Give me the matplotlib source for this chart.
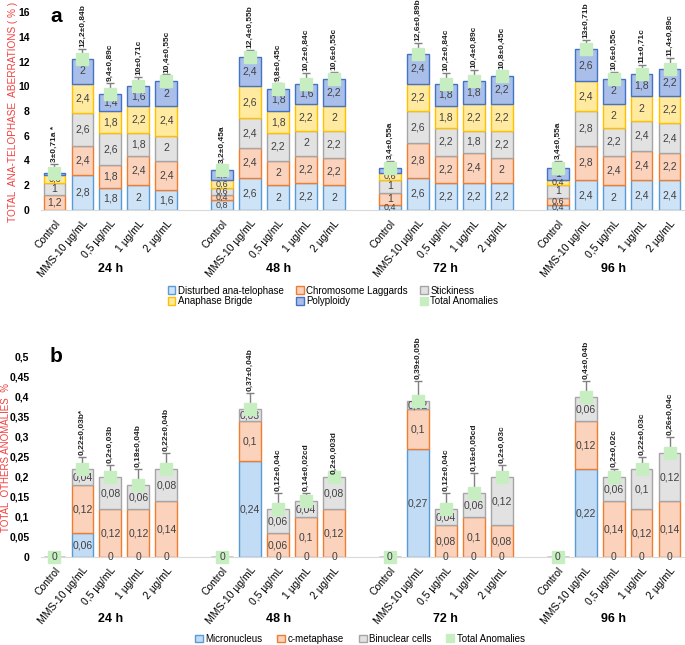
import numpy as np
import matplotlib
matplotlib.use("Agg")
from matplotlib import pyplot as plt

plt.rcParams['font.family'] = ['Liberation Sans', 'DejaVu Sans']

# categories
times = ["24 h", "48 h", "72 h", "96 h"]
doses = ["Control", "MMS-10 µg/mL", "0,5 µg/mL", "1 µg/mL", "2 µg/mL"]

# panel a - ana-telophase aberrations, 4 times x 5 doses
disturbed = [0, 2.8, 1.8, 2, 1.6,   0.8, 2.6, 2, 2.2, 2,    0.4, 2.6, 2.2, 2.2, 2.2,   0.4, 2.4, 2, 2.4, 2.4]
laggards = [1.2, 2.4, 1.8, 2.4, 2.4, 0.4, 2.4, 2, 2.2, 2.2,  1, 2.8, 2.2, 2.4, 2,      0.6, 2.8, 2.4, 2.4, 2.2]
stickiness = [1, 2.6, 2.6, 1.8, 2,  0.6, 2.4, 2.2, 2, 2.2,   1, 2.6, 2.2, 1.8, 2.2,    1, 2.8, 2.2, 2.4, 2.4]
bridge = [0.6, 2.4, 1.8, 2.2, 2.4,  0.6, 2.6, 1.8, 2.2, 2,   0.6, 2.2, 1.8, 2.2, 2.2,  0.4, 2.4, 2, 2, 2.2]
polyploidy = [0.2, 2, 1.4, 1.6, 2,  0.8, 2.4, 1.8, 1.6, 2.2,  0.4, 2.4, 1.8, 1.8, 2.2, 1, 2.6, 2, 1.8, 2.2]
sd_a = [0.71, 0.84, 0.89, 0.71, 0.55, 0.45, 0.55, 0.45, 0.84, 0.55,
        0.55, 0.89, 0.84, 0.89, 0.45, 0.55, 0.71, 0.55, 0.71, 0.89]
lab_a = ["3±0,71a *", "12,2±0,84b", "9,4±0,89c", "10±0,71c", "10,4±0,55c",
         "3,2±0,45a", "12,4±0,55b", "9,8±0,45c", "10,2±0,84c", "10,6±0,55c",
         "3,4±0,55a", "12,6±0,89b", "10,2±0,84c", "10,4±0,89c", "10,8±0,45c",
         "3,4±0,55a", "13±0,71b", "10,6±0,55c", "11±0,71c", "11,4±0,89c"]

# panel b - other anomalies
micronucleus = [0, 0.06, 0, 0, 0,  0, 0.24, 0, 0, 0,  0, 0.27, 0, 0, 0,  0, 0.22, 0, 0, 0]
cmeta = [0, 0.12, 0.12, 0.12, 0.14,  0, 0.1, 0.06, 0.1, 0.12,  0, 0.1, 0.08, 0.1, 0.08,  0, 0.12, 0.14, 0.12, 0.14]
binuclear = [0, 0.04, 0.08, 0.06, 0.08,  0, 0.03, 0.06, 0.04, 0.08,  0, 0.02, 0.04, 0.06, 0.12,  0, 0.06, 0.06, 0.1, 0.12]
sd_b = [0, 0.03, 0.03, 0.04, 0.04,  0, 0.04, 0.04, 0.02, 0.003,  0, 0.05, 0.04, 0.05, 0.03,  0, 0.04, 0.02, 0.03, 0.04]
lab_b = ["", "0,22±0,03b*", "0,2±0,03b", "0,18±0,04b", "0,22±0,04b",
         "", "0,37±0,04b", "0,12±0,04c", "0,14±0,02cd", "0,2±0,003d",
         "", "0,39±0,05b", "0,12±0,04c", "0,16±0,05cd", "0,2±0,03c",
         "", "0,4±0,04b", "0,2±0,02c", "0,22±0,03c", "0,26±0,04c"]

x = np.array([g * 6 + i for g in range(len(times)) for i in range(len(doses))])
xt = [d for t in times for d in doses]

def fmt(v):
    s = ("%.2f" % v).rstrip("0").rstrip(".")
    return s.replace(".", ",")

def draw(ax, series, names, fills, edges, sd, labels, ymax, step, minlab, letter, letter_y, group_y):
    bottom = np.zeros(len(x))
    handles = []
    for vals, nm, fc, ec in zip(series, names, fills, edges):
        vals = np.array(vals)
        h = ax.bar(x, vals, 0.78, bottom=bottom, color=fc, edgecolor=ec, linewidth=1, label=nm, zorder=2)
        handles.append(h)
        for xi, b, v in zip(x, bottom, vals):
            if v > 0:
                ax.text(xi, b + v / 2, fmt(v), ha='center', va='center',
                        fontsize=7.5 if v >= minlab else 6.5, color='#404040', zorder=4)
        bottom = bottom + vals
    tot = bottom
    sdv = np.array(sd)
    m = sdv > 0
    ax.errorbar(x[m], tot[m], yerr=[np.zeros(m.sum()), sdv[m]], fmt='none', ecolor='#808080',
                elinewidth=1, capsize=3, zorder=3)
    ln, = ax.plot(x, tot, 's', ms=9, color='#c6eec0', mec='#c6eec0', label='Total Anomalies', zorder=5,
                  linestyle='none', clip_on=False)
    handles.append(ln)
    for xi, t, s, lb in zip(x, tot, sdv, labels):
        if lb:
            ax.text(xi, t + s + ymax * 0.01, lb, rotation=90, ha='center', va='bottom',
                    fontsize=6.0, fontweight='bold', color='#202020', zorder=6)
    ax.set_xlim(-0.5, x.max() + 0.5)
    ax.set_ylim(0, ymax)
    ticks = np.arange(0, ymax + step / 2, step)
    ax.set_yticks(ticks)
    ax.set_yticklabels([fmt(t) for t in ticks], fontsize=7.5, fontweight='bold')
    ax.set_xticks(x)
    ax.set_xticklabels(xt, rotation=50, ha='right', rotation_mode='anchor', fontsize=7.5)
    ax.tick_params(axis='y', length=0, pad=8)
    ax.tick_params(axis='x', length=0, pad=6)
    for sp in ['top', 'right', 'left']:
        ax.spines[sp].set_visible(False)
    ax.spines['bottom'].set_color('#d9d9d9')
    ax.text(0.024, letter_y, letter, transform=ax.transAxes, fontsize=15,
            fontweight='bold', ha='center', va='center')
    for g, t in enumerate(times):
        ax.text(g * 6 + 2, group_y, t, transform=ax.get_xaxis_transform(), ha='center', va='center',
                fontsize=9, fontweight='bold')
    return handles

fig = plt.figure(figsize=(6.85, 6.45), dpi=100)
axA = fig.add_axes([40.5 / 685, 1 - 210 / 645, 643 / 685, 198 / 645])
axB = fig.add_axes([40.5 / 685, 1 - 557 / 645, 643 / 685, 200 / 645])

hA = draw(axA, [disturbed, laggards, stickiness, bridge, polyploidy],
          ["Disturbed ana-telophase", "Chromosome Laggards", "Stickiness", "Anaphase Brigde", "Polyploidy"],
          ['#cfe3f7', '#fbd2bc', '#e2e2e2', '#ffeaa0', '#a9bfea'],
          ['#5b9bd5', '#ed7d31', '#a5a5a5', '#ffc000', '#4472c4'],
          sd_a, lab_a, 16, 2, 0.9, "a", 1 - 4 / 198, -0.30)
hB = draw(axB, [micronucleus, cmeta, binuclear],
          ["Micronucleus", "c-metaphase", "Binuclear cells"],
          ['#c2dcf5', '#fbd2bc', '#e2e2e2'],
          ['#5b9bd5', '#ed7d31', '#a5a5a5'],
          sd_b, lab_b, 0.5, 0.05, 0.0, "b", 1.0, -0.31)

# zero labels in panel b
for xi, mv in zip(x, micronucleus):
    if mv == 0:
        axB.text(xi, 0.0, "0", ha='center', va='center', fontsize=7.5, color='#404040', zorder=7,
                 clip_on=False)

fig.text(13 / 685, 1 - 112 / 645, "TOTAL  ANA-TELOPHASE  ABERRATIONS ( % )", rotation=90,
         color='#f04040', fontsize=7.2, ha='center', va='center')
fig.text(6 / 685, 1 - 457 / 645, "TOTAL  OTHERS ANOMALİES  %", rotation=90,
         color='#f04040', fontsize=7.0, ha='center', va='center')

# row-major order for a 2x3 legend
order = [0, 3, 1, 4, 2, 5]
fig.legend([hA[i] for i in order], [hA[i].get_label() for i in order], loc='center',
           bbox_to_anchor=(333 / 685, 1 - 296 / 645), ncol=3, frameon=False,
           fontsize=7, handlelength=0.8, handleheight=0.8, columnspacing=1.2, labelspacing=0.1,
           handletextpad=0.3, markerscale=0.6)
fig.legend(hB, [h.get_label() for h in hB], loc='center', bbox_to_anchor=(360 / 685, 1 - 639 / 645),
           ncol=4, frameon=False, fontsize=7, handlelength=0.8, handleheight=0.8, columnspacing=1.5,
           handletextpad=0.3, markerscale=0.6)

fig.savefig("out.png", dpi=100)
